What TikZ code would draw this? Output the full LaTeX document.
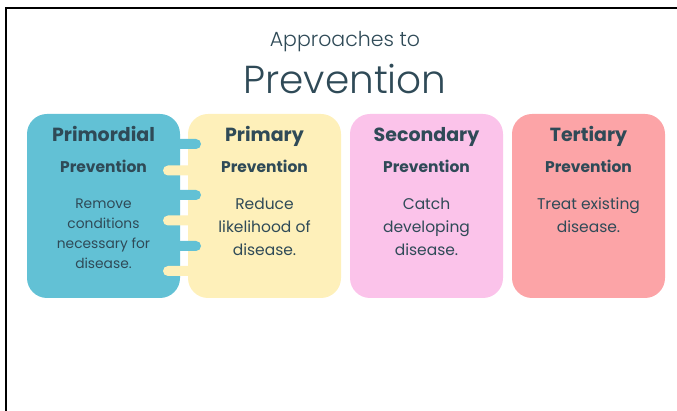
\documentclass[tikz,border=0pt]{standalone}
\usepackage{fontspec}
\setmainfont{Poppins}
\newfontfamily\lightfont{Poppins}[UprightFont=* Light]
\definecolor{ink}{HTML}{2F4A57}
\definecolor{cblue}{HTML}{62C1D5}
\definecolor{cyellow}{HTML}{FEF0BA}
\definecolor{cpink}{HTML}{FBC3EA}
\definecolor{cred}{HTML}{FCA4A7}
\begin{document}
\begin{tikzpicture}[x=1pt,y=-1pt,
  card/.style={minimum width=153pt,minimum height=184pt,rounded corners=20pt,inner sep=0pt},
  tab/.style={rounded corners=5pt},
  heading/.style={anchor=base,inner sep=0pt,text=ink,font=\fontsize{19}{22}\selectfont\bfseries},
  subhead/.style={anchor=base,inner sep=0pt,text=ink,font=\fontsize{15.5}{18}\selectfont\bfseries},
  bodytext/.style={anchor=base,inner sep=0pt,text=ink,align=center,font=\fontsize{15.5}{23}\selectfont},
  smallbody/.style={anchor=base,inner sep=0pt,text=ink,align=center,font=\fontsize{13.8}{20}\selectfont},
  title/.style={anchor=base,inner sep=0pt,text=ink}]
\useasboundingbox (0,0) rectangle (677,411);
% frame edges
\draw[line width=1.3pt] (6,411) -- (6,8) -- (677,8);

% title
\node[title,font=\fontsize{20.5}{24}\selectfont\lightfont] (t1) at (345,47) {Approaches to};
\node[title,font=\fontsize{39}{44}\selectfont\lightfont] (t2) at (345,94) {Prevention};

% the four cards
\node[card,fill=cblue]   (prim) at (103.5,206) {};
\node[card,fill=cyellow] (pri)  at (264.5,206) {};
\node[card,fill=cpink]   (sec)  at (426.5,206) {};
\node[card,fill=cred]    (ter)  at (588.5,206) {};

% interlocking tabs between the first two cards
\foreach \yy in {144,195,246}
  \fill[cblue,tab] (172,\yy-5) rectangle (201,\yy+5);
\foreach \yy in {170.5,220.5,271}
  \fill[cyellow,tab] (163,\yy-5) rectangle (195,\yy+5);

% card texts (multi-line blocks sit on the baseline of their last line)
\node[heading] (primH) at (103.5,142) {Primordial};
\node[subhead] (primS) at (103.5,173) {Prevention};
\node[smallbody] (primB) at (103.5,269) {Remove\\conditions\\necessary for\\disease.};

\node[heading] (priH) at (264.5,142) {Primary};
\node[subhead] (priS) at (264.5,173) {Prevention};
\node[bodytext] (priB) at (264.5,256) {Reduce\\likelihood of\\disease.};

\node[heading] (secH) at (426.5,142) {Secondary};
\node[subhead] (secS) at (426.5,173) {Prevention};
\node[bodytext] (secB) at (426.5,256) {Catch\\developing\\disease.};

\node[heading] (terH) at (588.5,142) {Tertiary};
\node[subhead] (terS) at (588.5,173) {Prevention};
\node[bodytext] (terB) at (588.5,233) {Treat existing\\disease.};
\end{tikzpicture}
\end{document}
